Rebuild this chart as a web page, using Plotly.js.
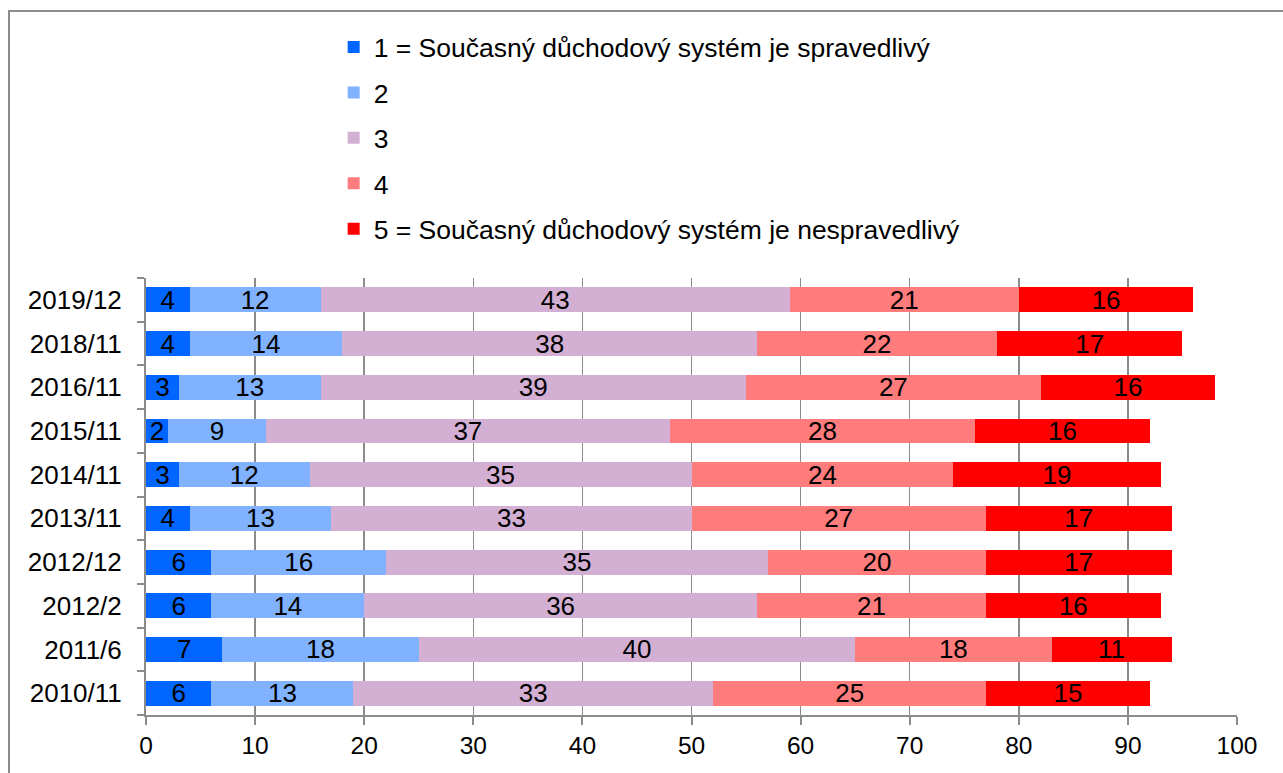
<!DOCTYPE html>
<html>
<head>
<meta charset="utf-8">
<script src="https://cdn.plot.ly/plotly-3.0.1.min.js"></script>
<style>
html,body{margin:0;padding:0;background:#fff;overflow:hidden;}
#chart{width:1283px;height:773px;position:absolute;left:0;top:0;}
#frame{position:absolute;left:8px;top:10px;width:1300px;height:800px;border:2px solid #8c8c8c;pointer-events:none;}
</style>
</head>
<body>
<div id="chart"></div>
<div id="frame"></div>
<script>
const categories = ["2010/11","2011/6","2012/2","2012/12","2013/11","2014/11","2015/11","2016/11","2018/11","2019/12"];
const seriesNames = [
  "1 = Současný důchodový systém je spravedlivý",
  "2",
  "3",
  "4",
  "5 = Současný důchodový systém je nespravedlivý"
];
const s1 = [6,7,6,6,4,3,2,3,4,4];
const s2 = [13,18,14,16,13,12,9,13,14,12];
const s3 = [33,40,36,35,33,35,37,39,38,43];
const s4 = [25,18,21,20,27,24,28,27,22,21];
const s5 = [15,11,16,17,17,19,16,16,17,16];
const colors = ["#0066FF","#80B2FF","#D3AFD3","#FF7C7C","#FF0000"];
const allSeries = [s1,s2,s3,s4,s5];

const FONT = "Liberation Sans, Arial, sans-serif";
const traces = allSeries.map((vals,i)=>({
  type:"bar",
  orientation:"h",
  name: seriesNames[i],
  legendgroup: "g"+i,
  y: categories,
  x: vals,
  text: vals.map(String),
  textposition:"inside",
  insidetextanchor:"middle",
  textangle:0,
  textfont:{family:FONT,size:26,color:"#000"},
  marker:{color:colors[i],line:{width:0}},
  hoverinfo:"x+y+name"
}));

const layout = {
  width:1283, height:773,
  margin:{l:146,r:46,t:278,b:58},
  paper_bgcolor:"#fff", plot_bgcolor:"#fff",
  barmode:"stack",
  bargap:0.43,
  font:{family:FONT,color:"#000"},
  uniformtext:{mode:"show",minsize:26},
  showlegend:true,
  legend:{
    x:0.172, xanchor:"left",
    y:1.583, yanchor:"top",
    traceorder:"grouped",
    tracegroupgap:8,
    font:{family:FONT,size:26.5,color:"#000"},
    bgcolor:"rgba(0,0,0,0)"
  },
  xaxis:{
    range:[0,100], dtick:10, tick0:0,
    showgrid:true, gridcolor:"#8c8c8c", gridwidth:1.5,
    zeroline:false,
    showline:true, linecolor:"#8c8c8c", linewidth:2,
    ticks:"outside", ticklen:8, tickwidth:2, tickcolor:"#8c8c8c",
    ticklabelstandoff:0,
    tickfont:{family:FONT,size:24.5,color:"#000"},
    fixedrange:true
  },
  yaxis:{
    type:"category",
    showgrid:false, zeroline:false,
    showline:true, linecolor:"#8c8c8c", linewidth:2,
    ticks:"outside", ticklen:7, tickwidth:2, tickcolor:"#8c8c8c",
    tickson:"boundaries",
    ticklabelstandoff:17,
    tickfont:{family:FONT,size:26,color:"#000"},
    fixedrange:true
  }
};
Plotly.newPlot("chart", traces, layout, {displayModeBar:false, staticPlot:true});
</script>
</body>
</html>
